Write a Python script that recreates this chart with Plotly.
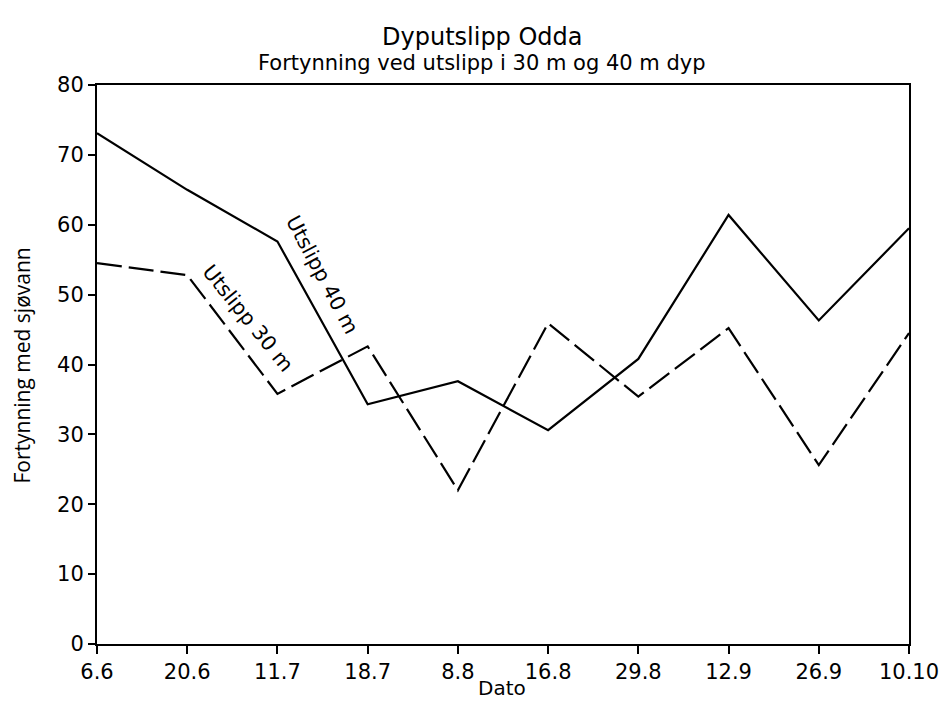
import plotly.graph_objects as go

dates = ["6.6", "20.6", "11.7", "18.7", "8.8", "16.8", "29.8", "12.9", "26.9", "10.10"]
utslipp_40m = [73.1, 65.0, 57.6, 34.3, 37.6, 30.6, 40.8, 61.4, 46.3, 59.5]
utslipp_30m = [54.5, 52.8, 35.8, 42.6, 22.0, 45.9, 35.4, 45.2, 25.6, 44.5]
y_ticks = [0, 10, 20, 30, 40, 50, 60, 70, 80]

font = "DejaVu Sans, Liberation Sans, sans-serif"
ytitle_font = "Open Sans, Noto Sans, sans-serif"

W, H = 951, 701
L, R, T, B = 97, 36, 85, 57
plot_w = W - L - R
plot_h = H - T - B


def page_to_paper(px, py):
    return (px - L) / plot_w, (H - B - py) / plot_h


fig = go.Figure()
fig.add_trace(go.Scatter(x=dates, y=utslipp_40m, mode="lines",
                         line=dict(color="black", width=2.2), name="Utslipp 40 m"))
fig.add_trace(go.Scatter(x=dates, y=utslipp_30m, mode="lines",
                         line=dict(color="black", width=2.2, dash="25px,7px"), name="Utslipp 30 m"))

ax, ay = page_to_paper(324, 275)
fig.add_annotation(x=ax, y=ay, xref="paper", yref="paper", text="Utslipp 40 m", showarrow=False,
                   textangle=62, xanchor="center", yanchor="middle",
                   font=dict(family=font, size=20.5, color="black"))
bx, by = page_to_paper(249, 318)
fig.add_annotation(x=bx, y=by, xref="paper", yref="paper", text="Utslipp 30 m", showarrow=False,
                   textangle=51, xanchor="center", yanchor="middle",
                   font=dict(family=font, size=20.5, color="black"))

tx, ty = page_to_paper(485, 37)
fig.add_annotation(x=tx, y=ty, xref="paper", yref="paper", text="Dyputslipp Odda", showarrow=False,
                   xanchor="center", yanchor="middle", borderpad=0,
                   font=dict(family=font, size=24, color="black"))
sx, sy = page_to_paper(485, 63)
fig.add_annotation(x=sx, y=sy, xref="paper", yref="paper",
                   text="Fortynning ved utslipp i 30 m og 40 m dyp", showarrow=False,
                   xanchor="center", yanchor="middle", borderpad=0,
                   font=dict(family=font, size=21, color="black"))
dx, dy = page_to_paper(505, 688)
fig.add_annotation(x=dx, y=dy, xref="paper", yref="paper", text="Dato", showarrow=False,
                   xanchor="center", yanchor="middle", borderpad=0,
                   font=dict(family=font, size=20, color="black"))
yx, yy = page_to_paper(21, 366)
fig.add_annotation(x=yx, y=yy, xref="paper", yref="paper", text="Fortynning med sjøvann",
                   showarrow=False, textangle=-90, xanchor="center", yanchor="middle", borderpad=0,
                   font=dict(family=ytitle_font, size=21, color="black"))

fig.update_layout(
    width=W, height=H,
    margin=dict(l=L, r=R, t=T, b=B),
    paper_bgcolor="white", plot_bgcolor="white",
    showlegend=False,
    font=dict(family=font, color="black"),
)

fig.update_xaxes(type="category", range=[0, 9], showline=True, linecolor="black", linewidth=2,
                 mirror=True, ticks="outside", ticklen=8, tickwidth=2, tickcolor="black",
                 showgrid=False, zeroline=False,
                 tickfont=dict(family=font, size=21, color="black"))
fig.update_yaxes(range=[0, 80], tickvals=y_ticks, showline=True, linecolor="black", linewidth=2,
                 mirror=True, ticks="outside", ticklen=7, tickwidth=2, tickcolor="black",
                 showgrid=False, zeroline=False,
                 tickfont=dict(family=font, size=21, color="black"))

fig.write_html("out.html", config={"displayModeBar": False},
               post_script="document.body.style.margin='0';document.body.style.overflow='hidden';")
